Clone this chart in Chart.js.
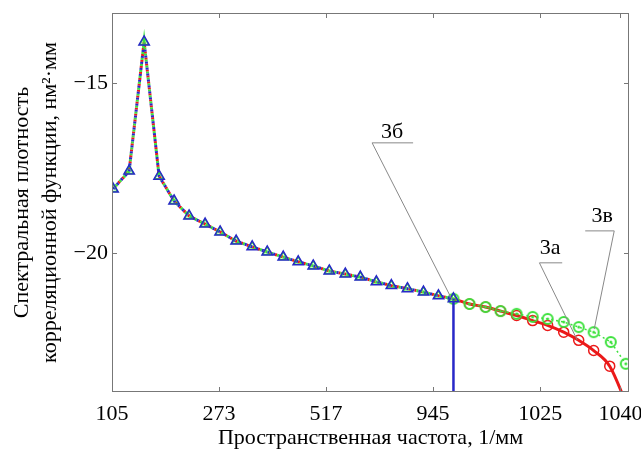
<!DOCTYPE html>
<html>
<head>
<meta charset="utf-8">
<script src="https://cdn.jsdelivr.net/npm/chart.js@4.4.1/dist/chart.umd.min.js"></script>
<style>
  body { margin: 0; background: #fff; }
  #wrap { width: 641px; height: 454px; }
</style>
</head>
<body>
<div id="wrap"><canvas id="chart"></canvas></div>
<script>
// x positions are in axis units: one unit between the regular tick marks
const xTickPos = [0, 1, 2, 3, 4, 4.75];
const xTickLabels = ['105', '273', '517', '945', '1025', '1040'];
const yTickPos = [-20, -15];

// common part of the three curves (triangles)
const xLeft = [0.01, 0.16, 0.30, 0.44, 0.58, 0.72, 0.87, 1.01, 1.16, 1.31, 1.45, 1.60,
  1.74, 1.88, 2.03, 2.18, 2.32, 2.47, 2.61, 2.76, 2.91, 3.05, 3.19];
const yLeft = [-18.12, -17.59, -13.79, -17.74, -18.47, -18.91, -19.15, -19.38, -19.65, -19.82,
  -19.97, -20.12, -20.26, -20.38, -20.53, -20.62, -20.71, -20.85, -20.96, -21.05, -21.15, -21.26, -21.35];

// 3в - green circles
const xGreen = [3.19, 3.34, 3.49, 3.63, 3.78, 3.93, 4.07, 4.22, 4.36, 4.50, 4.66, 4.80];
const yGreen = [-21.35, -21.50, -21.59, -21.71, -21.79, -21.88, -21.94, -22.03, -22.18, -22.33, -22.62, -23.26];

// 3а - red circles and red curve
const xRed = [3.34, 3.49, 3.63, 3.78, 3.93, 4.07, 4.22, 4.36, 4.50, 4.65];
const yRed = [-21.50, -21.59, -21.71, -21.84, -21.99, -22.13, -22.33, -22.57, -22.87, -23.33];
const xRedLine = [3.19, 3.34, 3.49, 3.63, 3.78, 3.93, 4.07, 4.22, 4.36, 4.50, 4.65, 4.82];
const yRedLine = [-21.35, -21.50, -21.59, -21.71, -21.84, -21.99, -22.13, -22.33, -22.57, -22.87, -23.33, -24.55];

// 3б - cut-off
const xCut = [3.19, 3.19];
const yCut = [-21.35, -24.5];

const RED = 'rgb(235, 25, 25)';
const BLUE = 'rgb(40, 40, 200)';
const GREEN = 'rgb(60, 225, 60)';
const FONT = 'Liberation Serif';

function pts(xs, ys) {
  return xs.map((x, i) => ({ x: x, y: ys[i] }));
}

// circle with a dot for 3в
const ringDot = document.createElement('canvas');
ringDot.width = 14;
ringDot.height = 14;
(function () {
  const c = ringDot.getContext('2d');
  c.strokeStyle = GREEN;
  c.lineWidth = 2;
  c.beginPath();
  c.arc(7, 7, 5, 0, Math.PI * 2);
  c.stroke();
  c.fillStyle = GREEN;
  c.beginPath();
  c.arc(7, 7, 1.5, 0, Math.PI * 2);
  c.fill();
})();

const callouts = [
  { text: '3б', tx: 2.617, ty: -16.44, hx1: 2.43, hx2: 2.813, hy: -16.76, sx: 2.43, ex: 3.178, ey: -21.38 },
  { text: '3а', tx: 4.093, ty: -19.85, hx1: 3.993, hx2: 4.206, hy: -20.29, sx: 3.993, ex: 4.346, ey: -22.56 },
  { text: '3в', tx: 4.579, ty: -18.91, hx1: 4.421, hx2: 4.692, hy: -19.35, sx: 4.692, ex: 4.505, ey: -22.24 },
];

const framePlugin = {
  id: 'frame',
  afterDraw(chart) {
    const { ctx, chartArea: a, scales: { x, y } } = chart;
    ctx.save();
    ctx.strokeStyle = '#777';
    ctx.lineWidth = 1;
    ctx.strokeRect(a.left + 0.5, a.top + 0.5, a.right - a.left - 1, a.bottom - a.top - 1);
    ctx.beginPath();
    xTickPos.forEach((v) => {
      const px = Math.round(x.getPixelForValue(v)) + 0.5;
      ctx.moveTo(px, a.bottom);
      ctx.lineTo(px, a.bottom - 5);
      ctx.moveTo(px, a.top);
      ctx.lineTo(px, a.top + 5);
    });
    yTickPos.forEach((v) => {
      const py = Math.round(y.getPixelForValue(v)) + 0.5;
      ctx.moveTo(a.left, py);
      ctx.lineTo(a.left + 5, py);
      ctx.moveTo(a.right, py);
      ctx.lineTo(a.right - 5, py);
    });
    ctx.stroke();

    // leader lines with labels
    ctx.strokeStyle = '#888';
    ctx.fillStyle = '#000';
    ctx.font = '22px "' + FONT + '"';
    ctx.textAlign = 'center';
    ctx.textBaseline = 'middle';
    callouts.forEach((c) => {
      ctx.beginPath();
      ctx.moveTo(x.getPixelForValue(c.hx1), y.getPixelForValue(c.hy));
      ctx.lineTo(x.getPixelForValue(c.hx2), y.getPixelForValue(c.hy));
      ctx.moveTo(x.getPixelForValue(c.sx), y.getPixelForValue(c.hy));
      ctx.lineTo(x.getPixelForValue(c.ex), y.getPixelForValue(c.ey));
      ctx.stroke();
      ctx.fillText(c.text, x.getPixelForValue(c.tx), y.getPixelForValue(c.ty));
    });
    ctx.restore();
  }
};

new Chart(document.getElementById('chart').getContext('2d'), {
  type: 'scatter',
  data: {
    datasets: [
      {
        label: 'blue triangles',
        data: pts(xLeft, yLeft),
        pointStyle: 'triangle',
        pointRadius: 6,
        borderColor: BLUE,
        backgroundColor: 'rgba(0,0,0,0)',
        borderWidth: 1.5,
        showLine: false,
      },
      {
        label: 'green triangles',
        data: pts(xLeft, yLeft),
        pointStyle: 'triangle',
        pointRadius: 5,
        borderColor: GREEN,
        backgroundColor: 'rgba(0,0,0,0)',
        borderWidth: 1.5,
        showLine: false,
      },
      {
        label: 'cut',
        data: pts(xCut, yCut),
        showLine: true,
        pointRadius: 0,
        borderColor: BLUE,
        borderWidth: 2.5,
      },
      {
        label: 'blue dotted',
        data: pts(xLeft, yLeft),
        showLine: true,
        pointRadius: 0,
        borderColor: BLUE,
        borderWidth: 3,
        borderDash: [2, 4],
        borderDashOffset: 0,
      },
      {
        label: '3в',
        data: pts(xGreen, yGreen),
        pointStyle: ringDot,
        showLine: true,
        borderColor: GREEN,
        borderWidth: 1.5,
        borderDash: [2, 3],
      },
      {
        label: '3а circles',
        data: pts(xRed, yRed),
        pointStyle: 'circle',
        pointRadius: 5,
        borderColor: RED,
        backgroundColor: 'rgba(0,0,0,0)',
        borderWidth: 1.5,
        showLine: false,
      },
      {
        label: '3а line',
        data: pts(xRedLine, yRedLine),
        showLine: true,
        pointRadius: 0,
        borderColor: RED,
        borderWidth: 3,
        cubicInterpolationMode: 'monotone',
      },
      {
        label: 'green dotted',
        data: pts(xLeft, yLeft),
        showLine: true,
        pointRadius: 0,
        borderColor: GREEN,
        borderWidth: 3,
        borderDash: [2, 4],
        borderDashOffset: 2,
      },
      {
        label: 'red dotted',
        data: pts(xLeft, yLeft),
        showLine: true,
        pointRadius: 0,
        borderColor: RED,
        borderWidth: 3,
        borderDash: [2, 4],
        borderDashOffset: 4,
      },
    ],
  },
  options: {
    responsive: true,
    maintainAspectRatio: false,
    animation: false,
    layout: { padding: { top: 13, right: 12, left: 0, bottom: 0 } },
    plugins: {
      legend: { display: false },
      tooltip: { enabled: false },
    },
    scales: {
      x: {
        type: 'linear',
        min: 0,
        max: 4.83,
        grid: { display: false, drawTicks: false },
        border: { display: false },
        afterBuildTicks: (scale) => {
          scale.ticks = xTickPos.map((v) => ({ value: v }));
        },
        afterFit: (scale) => {
          scale.height = 62;
          scale.paddingLeft = 0;
          scale.paddingRight = 0;
        },
        ticks: {
          autoSkip: false,
          maxRotation: 0,
          padding: 9,
          color: '#000',
          font: { family: FONT, size: 22 },
          callback: (v, i) => xTickLabels[i],
        },
        title: {
          display: true,
          text: 'Пространственная частота, 1/мм',
          color: '#000',
          font: { family: FONT, size: 22 },
          padding: { top: 0, bottom: 3 },
        },
      },
      y: {
        min: -24.09,
        max: -12.94,
        grid: { display: false, drawTicks: false },
        border: { display: false },
        afterBuildTicks: (scale) => {
          scale.ticks = yTickPos.map((v) => ({ value: v }));
        },
        afterFit: (scale) => {
          scale.width = 112;
          scale.paddingTop = 0;
          scale.paddingBottom = 0;
        },
        ticks: {
          padding: 4,
          color: '#000',
          font: { family: FONT, size: 22 },
          callback: (v) => '\u2212' + Math.abs(v),
        },
        title: {
          display: true,
          text: ['Спектральная плотность', 'корреляционной функции, нм\u00b2\u00b7мм'],
          color: '#000',
          font: { family: FONT, size: 22, lineHeight: 1.27 },
          padding: { top: 8, bottom: 0 },
        },
      },
    },
  },
  plugins: [framePlugin],
});
</script>
</body>
</html>
